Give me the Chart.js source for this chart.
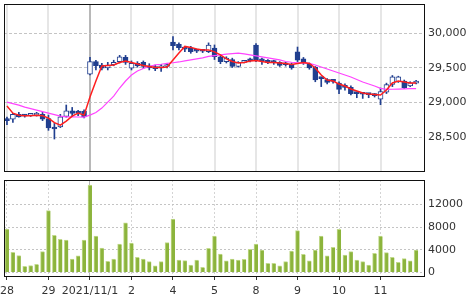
<!DOCTYPE html>
<html><head><meta charset="utf-8">
<script src="https://cdn.jsdelivr.net/npm/chart.js@4"></script>
<style>
html,body{margin:0;padding:0;background:#fff;width:470px;height:295px;overflow:hidden}
canvas{position:absolute;left:0}
#c1{top:0}
#c2{top:176px}
</style></head><body>
<canvas id="c1" width="470" height="176"></canvas>
<canvas id="c2" width="470" height="119"></canvas>
<script>
const categories = ['28','','','','','','','29','','','','','','','2021/11/1','','','','','','','2','','','','','','','4','','','','','','','5','','','','','','','8','','','','','','','9','','','','','','','10','','','','','','','11','','','','','','',''];

const opens  = [28760,28760,28830,28810,28815,28820,28830, 28770,28640,28650,28800,28880,28875,28875, 29410,29590,29540,29500,29545,29590,29650, 29495,29565,29580,29530,29510,29500,29520, 29870,29840,29790,29790,29755,29745,29735, 29785,29660,29590,29620,29520,29580,29630, 29830,29610,29600,29590,29580,29560,29550, 29730,29630,29555,29510,29360,29330,29320, 29280,29250,29220,29140,29130,29120,29115, 29050,29150,29260,29300,29310,29240,29280];
const highs  = [28790,28845,28860,28830,28840,28860,28860, 28820,28700,28830,28965,28930,28890,28895, 29650,29610,29565,29580,29610,29680,29680, 29600,29590,29600,29560,29540,29550,29560, 29950,29860,29810,29810,29770,29765,29860, 29830,29680,29660,29640,29590,29610,29640, 29850,29640,29620,29610,29590,29580,29570, 29800,29650,29570,29520,29365,29345,29335, 29300,29270,29240,29150,29140,29130,29130, 29210,29280,29390,29380,29325,29300,29320];
const lows   = [28680,28715,28790,28790,28800,28805,28740, 28600,28475,28640,28790,28800,28810,28780, 29400,29470,29470,29470,29530,29570,29550, 29470,29510,29490,29470,29460,29450,29500, 29760,29760,29735,29710,29720,29720,29720, 29620,29560,29570,29505,29510,29570,29585, 29590,29550,29560,29550,29520,29525,29480, 29590,29550,29480,29300,29230,29270,29280, 29130,29180,29110,29070,29060,29070,29080, 28970,29130,29230,29290,29200,29230,29270];
const closes = [28740,28830,28795,28805,28820,28835,28760, 28635,28620,28795,28880,28845,28850,28795, 29590,29530,29495,29540,29580,29660,29580, 29565,29530,29520,29500,29490,29520,29530, 29820,29790,29770,29735,29740,29740,29830, 29660,29590,29640,29520,29580,29590,29600, 29610,29600,29580,29575,29535,29545,29500, 29610,29570,29500,29325,29345,29290,29305, 29190,29220,29130,29130,29120,29115,29100, 29160,29260,29370,29370,29215,29285,29295];
const maShort = [28950,28848,28819,28812,28812,28819,28812, 28776,28711,28675,28733,28805,28848,28819, 29080,29311,29527,29535,29542,29578,29600, 29578,29556,29535,29520,29506,29506,29513, 29614,29715,29809,29795,29773,29759,29759, 29730,29686,29629,29592,29571,29578,29600, 29607,29592,29578,29578,29571,29564,29549, 29564,29578,29564,29499,29397,29325,29311, 29267,29238,29195,29166,29137,29123,29116, 29108,29181,29282,29311,29296,29282,29282];
const maLong = [29007,28986,28964,28935,28913,28892,28870, 28848,28827,28805,28795,28793,28792,28791, 28819,28856,28921,29007,29094,29210,29311, 29397,29455,29491,29520,29542,29552,29564, 29574,29585,29600,29614,29629,29643,29665, 29675,29686,29697,29704,29711,29701,29686, 29672,29658,29643,29629,29614,29592,29581, 29574,29571,29564,29542,29513,29484,29455, 29426,29397,29368,29332,29296,29267,29238, 29205,29191,29192,29195,29198,29201,29202];
const volumes = [7665,3560,2960,1090,1200,1440,3670, 10890,6550,5850,5730,2380,2910,5730, 15420,6430,4320,1970,2380,5020,8770, 5200,2680,2380,1900,1150,1900,5250, 9430,2200,2080,1320,2200,920,4260, 6430,3260,2030,2380,2200,2320,4090, 5020,3960,1620,1620,1150,1900,3790, 7370,3200,2030,3960,6430,2910,4440, 7610,3080,3670,2200,1900,1320,3380, 6430,3490,2680,1800,2430,2030,3960];
const priceTicks = [28500,29000,29500,30000];
const volumeGrid = [0,2000,4000,6000,8000,10000,12000,14000];
const volumeTicks = [0,4000,8000,12000];

const NAVY = '#213f8f';
const FONT = {family:'DejaVu Sans', size:11};
const TXT = '#333';
const CLEAR = 'rgba(0,0,0,0)';
function isDay(i){ return i % 7 === 0 && i < 70; }
function fixPad(s){ s.paddingLeft=0; s.paddingRight=0; s.paddingTop=0; s.paddingBottom=0; }

const frame = { id:'frame', afterDraw(c){ const a=c.chartArea, g=c.ctx; g.save(); g.strokeStyle='#111'; g.lineWidth=1;
  g.strokeRect(Math.round(a.left)+0.5, Math.round(a.top)+0.5, Math.round(a.right)-Math.round(a.left)-1, Math.round(a.bottom)-Math.round(a.top)-1); g.restore(); } };

Chart.defaults.animation = false;

new Chart(document.getElementById('c1'), {
  type:'bar',
  data:{ labels: categories, datasets:[
    {type:'line', data: maShort, borderColor:'#ff1e1e', borderWidth:1.5, pointRadius:0, order:0},
    {type:'line', data: maLong, borderColor:'#ff44ff', borderWidth:1.2, pointRadius:0, order:0},
    {type:'bar', data: opens.map((o,i)=>[o, closes[i]]), grouped:false, barThickness:5, minBarLength:2,
      backgroundColor: opens.map((o,i)=> closes[i] >= o ? '#ffffff' : NAVY), borderColor: NAVY, borderWidth:1, borderSkipped:false, order:1},
    {type:'bar', data: lows.map((l,i)=>[l, highs[i]]), grouped:false, barThickness:1, minBarLength:1,
      backgroundColor: NAVY, borderWidth:0, order:2}
  ]},
  options:{ responsive:false, animation:false,
    layout:{padding:{left:4, top:4, right:0, bottom:4}},
    plugins:{legend:{display:false}, tooltip:{enabled:false}},
    scales:{
      x:{ offset:true, ticks:{display:false},
        grid:{offset:false, drawTicks:false, lineWidth:2,
          color: c => isDay(c.index) ? (c.index===14 ? '#b8b8b8' : '#e6e6e6') : CLEAR},
        border:{display:false},
        afterFit: s => { fixPad(s); s.height = 0; } },
      y:{ position:'right', min:28000, max:30420,
        afterBuildTicks: s => { s.ticks = priceTicks.map(v=>({value:v})); },
        ticks:{padding:3, color:TXT, font:FONT},
        grid:{drawTicks:false, color:'#c4c4c4', lineWidth:1},
        border:{display:false, dash:[3,2]},
        afterFit: s => { fixPad(s); s.width = 45; } }
    }
  },
  plugins:[frame]
});

new Chart(document.getElementById('c2'), {
  type:'bar',
  data:{ labels: categories, datasets:[
    {data: volumes, barThickness:4, backgroundColor:'#8cb43c', borderColor:'#c2da8c', borderWidth:{left:1, top:1, right:0, bottom:0}}
  ]},
  options:{ responsive:false, animation:false,
    layout:{padding:{left:4, top:4, right:0, bottom:0}},
    plugins:{legend:{display:false}, tooltip:{enabled:false}},
    scales:{
      x:{ offset:true,
        ticks:{autoSkip:false, maxRotation:0, minRotation:0, padding:5, color:TXT, font:FONT},
        grid:{offset:false, drawTicks:true, tickLength:3, lineWidth:1,
          color: c => isDay(c.index) ? (c.index===14 ? '#b8b8b8' : '#d4d4d4') : CLEAR,
          tickColor: c => isDay(c.index) ? '#333' : CLEAR},
        border:{display:false, dash: c => c.index===14 ? [] : [2,2]},
        afterFit: s => { fixPad(s); s.height = 18; } },
      y:{ position:'right', min:-800, max:16300,
        afterBuildTicks: s => { s.ticks = volumeGrid.map(v=>({value:v})); },
        ticks:{padding:3, color:TXT, font:FONT, callback: v => volumeTicks.includes(v) ? String(v) : ''},
        grid:{drawTicks:false, color:'#c4c4c4', lineWidth:1},
        border:{display:false, dash:[2,2]},
        afterFit: s => { fixPad(s); s.width = 45; } }
    }
  },
  plugins:[frame]
});
</script>
</body></html>
